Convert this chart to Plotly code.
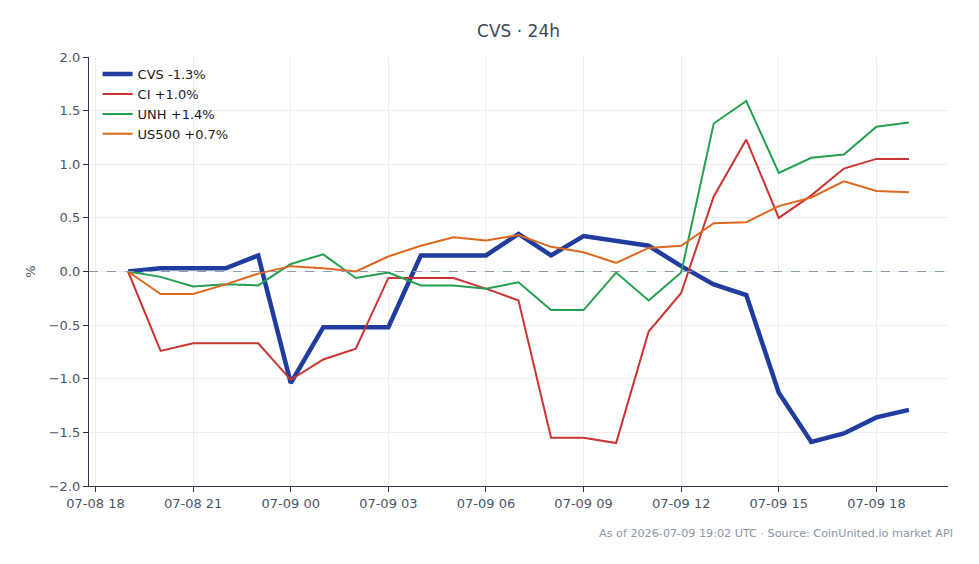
import plotly.graph_objects as go
import pandas as pd

times = pd.date_range("2026-07-08 19:00", "2026-07-09 19:00", freq="h")

cvs = [0.0, 0.03, 0.03, 0.03, 0.15, -1.04, -0.52, -0.52, -0.52, 0.15, 0.15, 0.15, 0.35,
       0.15, 0.33, 0.28, 0.24, 0.05, -0.12, -0.22, -1.13, -1.59, -1.51, -1.36, -1.29]
ci = [0.0, -0.74, -0.67, -0.67, -0.67, -1.01, -0.82, -0.72, -0.06, -0.06, -0.06, -0.16, -0.27,
      -1.55, -1.55, -1.60, -0.56, -0.20, 0.70, 1.23, 0.50, 0.71, 0.96, 1.05, 1.05]
unh = [0.0, -0.05, -0.14, -0.12, -0.13, 0.07, 0.16, -0.06, -0.01, -0.13, -0.13, -0.16, -0.10,
       -0.36, -0.36, -0.01, -0.27, -0.01, 1.38, 1.59, 0.92, 1.06, 1.09, 1.35, 1.39]
us500 = [0.0, -0.21, -0.21, -0.12, -0.02, 0.05, 0.03, 0.0, 0.14, 0.24, 0.32, 0.29, 0.34,
         0.23, 0.18, 0.08, 0.22, 0.24, 0.45, 0.46, 0.61, 0.69, 0.84, 0.75, 0.74]

series = [
    ("CVS -1.3%", cvs, "#1f3c9e", 4.5),
    ("CI +1.0%", ci, "#cc3333", 2),
    ("UNH +1.4%", unh, "#24a04f", 2),
    ("US500 +0.7%", us500, "#e0671f", 2),
]

fig = go.Figure()
for name, vals, color, w in series:
    fig.add_trace(go.Scatter(x=times, y=vals, mode="lines", name=name,
                             line=dict(color=color, width=w)))

fig.add_shape(type="line", xref="paper", x0=0, x1=1, yref="y", y0=0, y1=0,
              line=dict(color="#8a9ab0", width=1.2, dash="dash"))

axis_color = "#2d3748"
fig.update_layout(
    width=979, height=564,
    margin=dict(l=89, r=31, t=57, b=78),
    paper_bgcolor="white", plot_bgcolor="white",
    font=dict(family="DejaVu Sans", size=13, color="#4a5568"),
    title=dict(text="CVS · 24h", x=0.5297, xanchor="center", y=0.945, yanchor="middle",
               font=dict(size=17, color="#3c4858")),
    legend=dict(x=0.01, y=0.995, xanchor="left", yanchor="top", bgcolor="rgba(0,0,0,0)",
                font=dict(size=13, color="#1a1a1a"), tracegroupgap=0),
    xaxis=dict(
        range=[pd.Timestamp("2026-07-08 17:48"), pd.Timestamp("2026-07-09 20:12")],
        tickformat="%m-%d %H", dtick=3 * 3600 * 1000,
        tick0=pd.Timestamp("2026-07-08 18:00"),
        showgrid=True, gridcolor="#ebedf0", gridwidth=1,
        showline=True, linecolor=axis_color, linewidth=1.2,
        ticks="outside", ticklen=5, tickcolor=axis_color,
        zeroline=False,
    ),
    yaxis=dict(
        range=[-2, 2], dtick=0.5, tickformat=".1f",
        showgrid=True, gridcolor="#ebedf0", gridwidth=1,
        showline=True, linecolor=axis_color, linewidth=1.2,
        ticks="outside", ticklen=5, tickcolor=axis_color,
        zeroline=False,
        title=dict(text="%", standoff=10, font=dict(size=13)),
    ),
    annotations=[dict(text="As of 2026-07-09 19:02 UTC · Source: CoinUnited.io market API",
                      xref="paper", yref="paper", x=1.008, y=-0.11, xanchor="right",
                      yanchor="middle", showarrow=False,
                      font=dict(size=11.2, color="#8a94a6"))],
)

fig.write_html("out.html")
